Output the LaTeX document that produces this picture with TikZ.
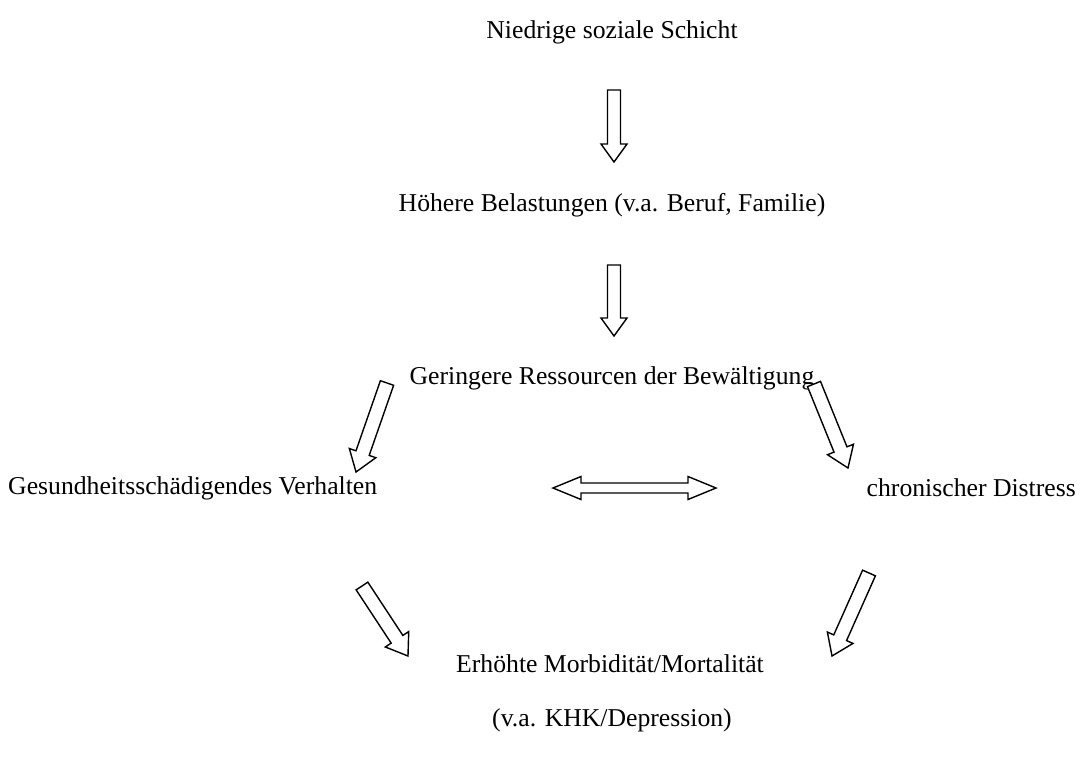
\documentclass[tikz,border=0pt]{standalone}
\usepackage{fontspec}
\setmainfont{Liberation Serif}
\usetikzlibrary{calc}
\tikzset{
  lbl/.style={inner sep=0pt, font=\fontsize{25.7}{29}\selectfont},
  blockarr/.style={draw=black, line width=1.4pt, fill=white, line join=miter},
}
% single block arrow from #1 to #2 ; #3 shaft half width, #4 head half width, #5 head length
\newcommand\blockarrow[5]{%
  \draw[blockarr] let \p1=(#1), \p2=(#2), \n1={atan2(\y2-\y1,\x2-\x1)}, \n2={veclen(\x2-\x1,\y2-\y1)} in
    [shift={(\p1)}, rotate=\n1]
    (0pt,-#3pt) -- (\n2-#5pt,-#3pt) -- (\n2-#5pt,-#4pt) -- (\n2,0pt) -- (\n2-#5pt,#4pt) -- (\n2-#5pt,#3pt) -- (0pt,#3pt) -- cycle;}
\newcommand\doublearrow[5]{%
  \draw[blockarr] let \p1=(#1), \p2=(#2), \n1={atan2(\y2-\y1,\x2-\x1)}, \n2={veclen(\x2-\x1,\y2-\y1)} in
    [shift={(\p1)}, rotate=\n1]
    (0pt,0pt) -- (#5pt,#4pt) -- (#5pt,#3pt) -- (\n2-#5pt,#3pt) -- (\n2-#5pt,#4pt) -- (\n2,0pt) -- (\n2-#5pt,-#4pt) -- (\n2-#5pt,-#3pt) -- (#5pt,-#3pt) -- (#5pt,-#4pt) -- cycle;}
\begin{document}
\begin{tikzpicture}[x=1pt,y=-1pt]
\useasboundingbox[fill=white] (0,0) rectangle (1081,756);
\node[lbl] (t1) at (612,32) {Niedrige soziale Schicht};
\node[lbl] (t2) at (612,205) {Höhere Belastungen (v.a. Beruf, Familie)};
\node[lbl] (t3) at (612,378) {Geringere Ressourcen der Bewältigung};
\node[lbl, anchor=west] (t4) at (8,488) {Gesundheitsschädigendes Verhalten};
\node[lbl, anchor=east] (t5) at (1076,488) {chronischer Distress};
\node[lbl] (t6) at (610,664) {Erhöhte Morbidität/Mortalität};
\node[lbl] (t7) at (612,720) {(v.a. KHK/Depression)};
% arrow end points
\coordinate (a1s) at (614,90);  \coordinate (a1e) at (614,162);
\coordinate (a2s) at (614,265); \coordinate (a2e) at (614,336);
\coordinate (a3s) at (387,383); \coordinate (a3e) at (356,472);
\coordinate (a4s) at (814,384); \coordinate (a4e) at (848,468);
\coordinate (a5s) at (553,488); \coordinate (a5e) at (716,488);
\coordinate (a6s) at (362,586); \coordinate (a6e) at (408,656);
\coordinate (a7s) at (869,573); \coordinate (a7e) at (832,656);
\blockarrow{a1s}{a1e}{6.5}{13}{18}
\blockarrow{a2s}{a2e}{6.5}{13}{18}
\blockarrow{a3s}{a3e}{7}{14}{20}
\blockarrow{a4s}{a4e}{7}{14}{20}
\doublearrow{a5s}{a5e}{5}{11.5}{28}
\blockarrow{a6s}{a6e}{7}{14}{20}
\blockarrow{a7s}{a7e}{7}{14}{20}
\end{tikzpicture}
\end{document}
